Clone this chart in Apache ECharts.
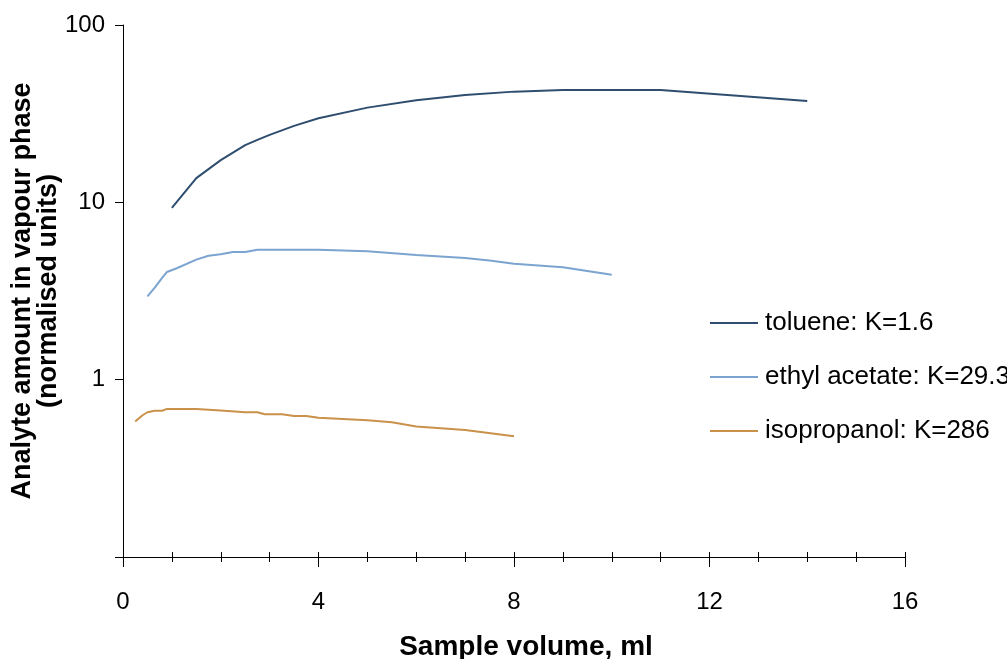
<!DOCTYPE html>
<html><head><meta charset="utf-8">
<script src="https://cdn.jsdelivr.net/npm/echarts@6/dist/echarts.min.js"></script>
<style>html,body{margin:0;padding:0;background:#fff}#c{width:1007px;height:659px}</style>
</head><body><div id="c"></div>
<script>
const seriesNames = ['toluene: K=1.6', 'ethyl acetate: K=29.3', 'isopropanol: K=286'];
const tolueneX = [1, 1.5, 2, 2.5, 2.75, 3, 3.5, 4, 5, 6, 7, 8, 9, 11, 14];
const tolueneY = [9.3, 13.7, 17.3, 21, 22.5, 24, 27, 29.8, 34.2, 37.6, 40.3, 42.1, 43, 43, 37.3];
const ethylX = [0.5, 0.65, 0.8, 0.9, 1.1, 1.5, 1.75, 2, 2.25, 2.5, 2.75, 3, 4, 5, 6, 7, 7.5, 8, 9, 10];
const ethylY = [2.95, 3.3, 3.75, 4.05, 4.25, 4.75, 5.0, 5.1, 5.25, 5.25, 5.4, 5.4, 5.4, 5.3, 5.05, 4.85, 4.7, 4.5, 4.3, 3.9];
const isoX = [0.25, 0.4, 0.5, 0.65, 0.8, 0.9, 1.5, 2, 2.5, 2.75, 2.9, 3.25, 3.5, 3.75, 4, 5, 5.5, 6, 7, 8];
const isoY = [0.58, 0.63, 0.655, 0.668, 0.668, 0.684, 0.684, 0.67, 0.655, 0.655, 0.638, 0.638, 0.624, 0.624, 0.61, 0.59, 0.575, 0.545, 0.52, 0.48];
const xTicks = [0, 4, 8, 12, 16];
const yTicks = [0.1, 1, 10, 100];
const colors = ['#2f4e6f', '#7ba4d0', '#c99149'];

function pairs(xs, ys) { return xs.map((x, i) => [x, ys[i]]); }
const font = '"Liberation Sans", Arial, sans-serif';
const chart = echarts.init(document.getElementById('c'));
chart.setOption({
  animation: false,
  backgroundColor: '#fff',
  grid: { left: 123, right: 102, top: 25, bottom: 102, containLabel: false, outerBoundsMode: 'none' },
  legend: {
    orient: 'vertical', left: 705, top: 305, itemWidth: 48, itemHeight: 2, itemGap: 28,
    icon: 'rect',
    textStyle: { fontFamily: font, fontSize: 26, color: '#000', padding: [0, 0, 0, 2] },
    data: seriesNames
  },
  xAxis: [{
    type: 'value', min: xTicks[0], max: xTicks[xTicks.length - 1], interval: 4,
    name: 'Sample volume, ml', nameLocation: 'middle', nameGap: 76,
    nameTextStyle: { fontFamily: font, fontSize: 28, fontWeight: 'bold', color: '#000', padding: [0, 0, 0, 24] },
    axisLine: { show: true, lineStyle: { color: '#000', width: 1 } },
    axisTick: { show: true, length: 10, lineStyle: { color: '#000' } },
    minorTick: { show: true, splitNumber: 4, length: 5, lineStyle: { color: '#000' } },
    axisLabel: { fontFamily: font, fontSize: 24, color: '#000', margin: 33 },
    splitLine: { show: false }
  }, {
    type: 'value', min: 0, max: 16, interval: 1, position: 'bottom', gridIndex: 0,
    axisLine: { show: false },
    axisTick: { show: true, inside: true, length: 5, lineStyle: { color: '#000' } },
    axisLabel: { show: false }, splitLine: { show: false }
  }],
  yAxis: {
    type: 'log', logBase: 10, min: yTicks[0], max: yTicks[yTicks.length - 1],
    name: 'Analyte amount in vapour phase\n(normalised units)', nameLocation: 'middle', nameGap: 61, nameRotate: 90,
    nameMoveOverlap: false,
    nameTextStyle: { fontFamily: font, fontSize: 27, fontWeight: 'bold', color: '#000', lineHeight: 26 },
    axisLine: { show: true, lineStyle: { color: '#000', width: 1 } },
    axisTick: { show: true, length: 8, lineStyle: { color: '#000' } },
    axisLabel: { fontFamily: font, fontSize: 24, color: '#000', margin: 18,
      formatter: v => v < 0.5 ? '' : String(Math.round(v)) },
    splitLine: { show: false }
  },
  series: [
    { name: seriesNames[0], type: 'line', data: pairs(tolueneX, tolueneY), symbol: 'none', lineStyle: { color: colors[0], width: 2 }, itemStyle: { color: colors[0] } },
    { name: seriesNames[1], type: 'line', data: pairs(ethylX, ethylY), symbol: 'none', lineStyle: { color: colors[1], width: 2 }, itemStyle: { color: colors[1] } },
    { name: seriesNames[2], type: 'line', data: pairs(isoX, isoY), symbol: 'none', lineStyle: { color: colors[2], width: 2 }, itemStyle: { color: colors[2] } }
  ]
});
</script></body></html>
